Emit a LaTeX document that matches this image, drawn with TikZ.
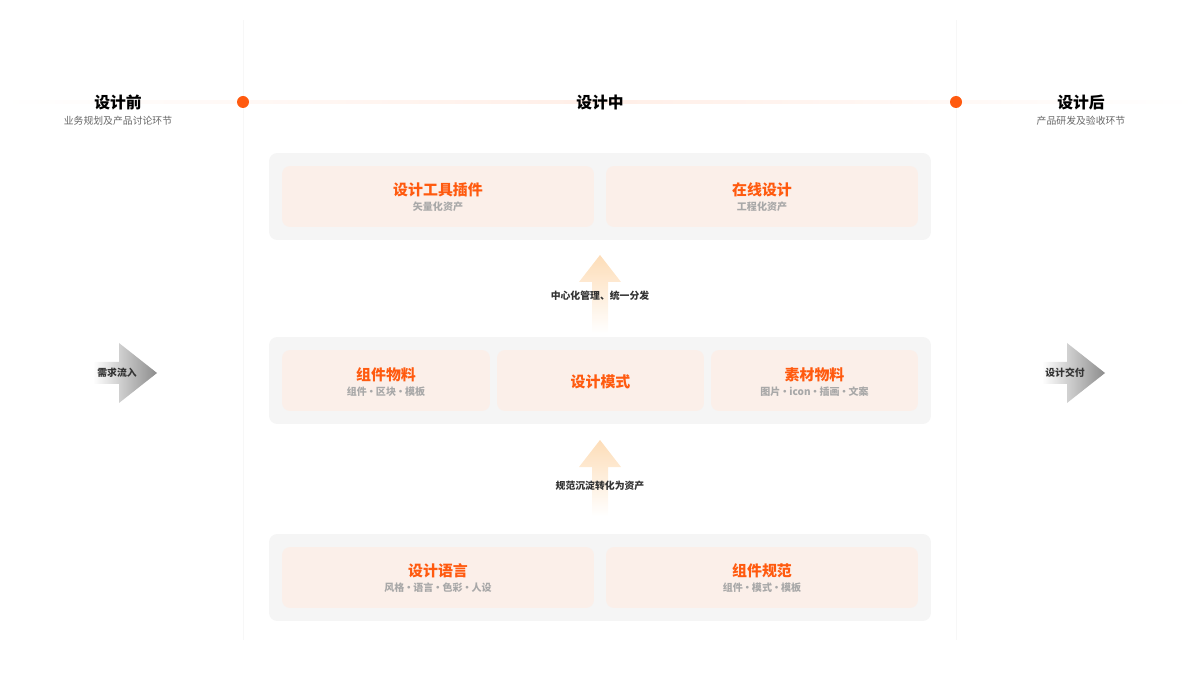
\documentclass[tikz,border=0pt]{standalone}
\usepackage{fontspec}
\setmainfont{Noto Sans CJK SC}
\definecolor{accent}{HTML}{FF5A0F}
\definecolor{panelgray}{HTML}{F5F5F5}
\definecolor{cardfill}{HTML}{FBEFE9}
\definecolor{subgray}{HTML}{A8A8A8}
\definecolor{linegray}{HTML}{F7F7F7}
\definecolor{arrowtop}{HTML}{FDDDB8}
\newcommand{\sep}{\hspace{-0.05em}·\hspace{-0.05em}}
\begin{document}
\begin{tikzpicture}[x=0.02cm, y=-0.02cm, >=stealth,
		phase/.style={inner sep=0pt, font=\fontsize{9}{11}\selectfont\bfseries, text=black},
		phasesub/.style={inner sep=0pt, font=\fontsize{5.6}{7}\selectfont, text=black!60},
		dot/.style={circle, fill=accent, minimum size=0.24cm, inner sep=0pt},
		panel/.style={fill=panelgray, rounded corners=0.16cm, minimum width=13.24cm, minimum height=1.74cm},
		card/.style={fill=cardfill, rounded corners=0.16cm, minimum height=1.22cm},
		cardtitle/.style={inner sep=0pt, font=\fontsize{8.5}{10}\selectfont\bfseries, text=accent},
		cardsub/.style={inner sep=0pt, font=\fontsize{5.7}{7}\selectfont\bfseries, text=subgray},
		flowlabel/.style={inner sep=0pt, font=\fontsize{5.6}{7}\selectfont\bfseries, text=black!80}]
	\useasboundingbox (0,0) rectangle (1200,675);
	\shade[left color=white, right color=white, middle color=accent!10] (0,101) rectangle (1200,103.5);
	\coordinate (l1) at (243,20);
	\coordinate (l2) at (243,640);
	\coordinate (r1) at (956,20);
	\coordinate (r2) at (956,640);
	\draw[linegray, line width=0.5pt] (l1) -- (l2);
	\draw[linegray, line width=0.5pt] (r1) -- (r2);
	\node[dot] (d1) at (243,102) {};
	\node[dot] (d2) at (956,102) {};
	\node[phase] (pre) at (118,103) {设计前};
	\node[phasesub] (presub) at (118,121) {业务规划及产品讨论环节};
	\node[phase] (mid) at (600,103) {设计中};
	\node[phase] (post) at (1081,103) {设计后};
	\node[phasesub] (postsub) at (1081,121) {产品研发及验收环节};
	\node[panel] (toplayer) at (600,196.5) {};
	\node[card, minimum width=6.24cm] (plugin) at (438,196.5) {};
	\node[card, minimum width=6.24cm] (online) at (762,196.5) {};
	\node[cardtitle] (plugint) at (438,190) {设计工具插件};
	\node[cardsub] (plugins) at (438,207) {矢量化资产};
	\node[cardtitle] (onlinet) at (762,190) {在线设计};
	\node[cardsub] (onlines) at (762,207) {工程化资产};
	\node[panel] (midlayer) at (600,380.5) {};
	\node[card, minimum width=4.16cm] (comp) at (386,380.5) {};
	\node[card, minimum width=4.14cm] (mode) at (600.5,380.5) {};
	\node[card, minimum width=4.14cm] (asset) at (814.5,380.5) {};
	\node[cardtitle] (compt) at (386,374.5) {组件物料};
	\node[cardsub] (comps) at (386,391.5) {组件\sep 区块\sep 模板};
	\node[cardtitle] (modet) at (600.5,381.5) {设计模式};
	\node[cardtitle] (assett) at (814.5,374.5) {素材物料};
	\node[cardsub] (assets) at (814.5,391.5) {图片\sep icon\sep 插画\sep 文案};
	\node[panel] (baselayer) at (600,577.5) {};
	\node[card, minimum width=6.24cm] (lang) at (438,577.5) {};
	\node[card, minimum width=6.24cm] (spec) at (762,577.5) {};
	\node[cardtitle] (langt) at (438,571) {设计语言};
	\node[cardsub] (langs) at (438,588) {风格\sep 语言\sep 色彩\sep 人设};
	\node[cardtitle] (spect) at (762,571) {组件规范};
	\node[cardsub] (specs) at (762,588) {组件\sep 模式\sep 模板};
	\shade[top color=arrowtop, bottom color=white] (592,333) -- (592,282) -- (579,282) -- (600,255) -- (621,282) -- (608,282) -- (608,333) -- cycle;
	\node[flowlabel] (share) at (600,296) {中心化管理、统一分发};
	\shade[top color=arrowtop, bottom color=white] (592,516) -- (592,467) -- (579,467) -- (600,440) -- (621,467) -- (608,467) -- (608,516) -- cycle;
	\node[flowlabel] (settle) at (600,486) {规范沉淀转化为资产};
	\shade[left color=white, right color=black!45] (93,362) -- (119,362) -- (119,343) -- (157,373) -- (119,403) -- (119,384) -- (93,384) -- cycle;
	\node[flowlabel] (demand) at (117,373) {需求流入};
	\shade[left color=white, right color=black!45] (1042,362) -- (1067,362) -- (1067,343) -- (1105,373) -- (1067,403) -- (1067,384) -- (1042,384) -- cycle;
	\node[flowlabel] (deliver) at (1065,373) {设计交付};
\end{tikzpicture}
\end{document}
